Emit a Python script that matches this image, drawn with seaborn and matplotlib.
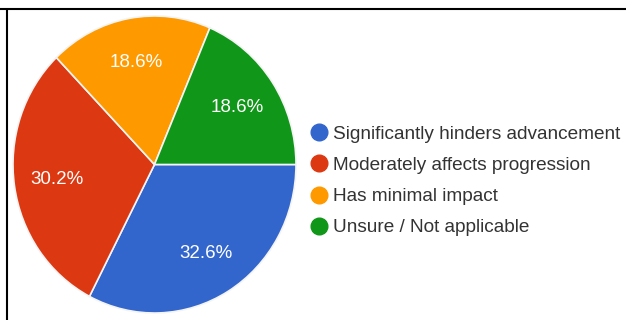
import matplotlib
matplotlib.use("Agg")
import matplotlib.pyplot as plt
import seaborn as sns
from matplotlib.lines import Line2D

sns.set_theme(style="white")
plt.rcParams['font.family'] = ['Liberation Sans', 'DejaVu Sans']

categories = ["Significantly hinders advancement", "Moderately affects progression",
              "Has minimal impact", "Unsure / Not applicable"]
values = [32.6, 30.2, 18.6, 18.6]
colors = ["#3366CC", "#DC3912", "#FF9900", "#109618"]

W, H = 626, 320
fig = plt.figure(figsize=(W / 100, H / 100), dpi=100)
fig.patch.set_facecolor("white")

ax = fig.add_axes([13 / W, 7 / H, 283 / W, 297 / H])
wedges, texts, autotexts = ax.pie(
    values, colors=colors, startangle=0, counterclock=False,
    autopct=lambda p: f"{p:.1f}%", pctdistance=0.7,
    wedgeprops=dict(edgecolor="#f4f4f4", linewidth=1.2),
    textprops=dict(color="white", fontsize=13.5))
ax.set_xlim(-1.0, 1.0)
ax.set_ylim(-1.0, 1.0)
ax.set_aspect("auto")
ax.axis("off")

handles = [Line2D([0], [0], marker="o", linestyle="none", markersize=12,
                  markerfacecolor=c, markeredgecolor=c) for c in colors]
fig.legend(handles, categories, loc="center left",
           bbox_to_anchor=(298 / W, 1 - 181 / H), frameon=False,
           fontsize=13.7, labelspacing=0.72, handletextpad=0.15,
           handlelength=1.2, labelcolor="#333333", borderpad=0)

# image border lines (top and left)
fig.add_artist(Line2D([0, 1], [1 - 9 / H, 1 - 9 / H], transform=fig.transFigure,
                      color="black", linewidth=1.5))
fig.add_artist(Line2D([7 / W, 7 / W], [0, 1 - 9 / H], transform=fig.transFigure,
                      color="black", linewidth=1.5))

fig.savefig("out.png", dpi=100, facecolor="white")
